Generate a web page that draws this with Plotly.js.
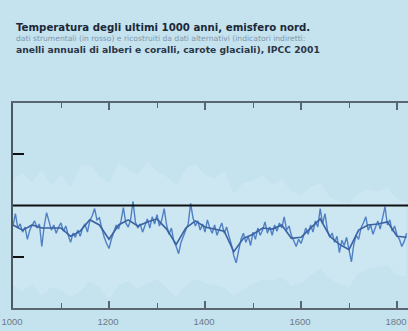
<!DOCTYPE html>
<html>
<head>
<meta charset="utf-8">
<script src="https://cdn.plot.ly/plotly-3.0.1.min.js"></script>
<style>html,body{margin:0;padding:0;background:#c5e2ef;}#chart{width:408px;height:331px;}</style>
</head>
<body>
<div id="chart"></div>
<script>
// ---- Data ----
var titleLine1 = "Temperatura degli ultimi 1000 anni, emisfero nord.";
var titleLine2 = "dati strumentali (in rosso) e ricostruiti da dati alternativi (indicatori indiretti:";
var titleLine3 = "anelli annuali di alberi e coralli, carote glaciali), IPCC 2001";

var tickYears = [1000, 1200, 1400, 1600, 1800];
var tickLabels = ["1000", "1200", "1400", "1600", "1800"];

// reconstruction, every 5 years from 1000 to 1820 (°C anomaly)
var reconStart = 1000, reconStep = 5;
var reconValues = [
 -0.20,-0.08,-0.22,-0.18, -0.26,-0.21,-0.33,-0.24, -0.19,-0.15,-0.22,-0.18,
 -0.40,-0.20,-0.07,-0.16, -0.24,-0.19,-0.27,-0.21, -0.17,-0.25,-0.20,-0.29,
 -0.36,-0.27,-0.31,-0.24, -0.30,-0.22,-0.18,-0.26, -0.15,-0.10,-0.03,-0.14,
 -0.12,-0.22,-0.31,-0.37, -0.42,-0.33,-0.25,-0.19, -0.23,-0.15,-0.02,-0.17,
 -0.21,-0.14, 0.04,-0.16, -0.22,-0.18,-0.26,-0.20, -0.13,-0.22,-0.11,-0.18,
 -0.09,-0.20,-0.14,-0.03, -0.19,-0.28,-0.22,-0.35, -0.40,-0.47,-0.36,-0.30,
 -0.24,-0.18, 0.02,-0.12, -0.20,-0.15,-0.24,-0.18, -0.26,-0.14,-0.22,-0.27,
 -0.19,-0.29,-0.23,-0.17, -0.27,-0.21,-0.30,-0.38, -0.49,-0.56,-0.44,-0.33,
 -0.27,-0.36,-0.30,-0.39, -0.26,-0.33,-0.22,-0.29, -0.24,-0.16,-0.27,-0.21,
 -0.29,-0.19,-0.25,-0.17, -0.22,-0.11,-0.24,-0.20, -0.29,-0.35,-0.40,-0.33,
 -0.37,-0.30,-0.22,-0.28, -0.19,-0.26,-0.15,-0.21, -0.03,-0.18,-0.08,-0.24,
 -0.31,-0.27,-0.36,-0.30, -0.46,-0.34,-0.39,-0.31, -0.45,-0.55,-0.38,-0.29,
 -0.33,-0.22,-0.17,-0.11, -0.24,-0.19,-0.28,-0.21, -0.15,-0.23,-0.12,-0.01,
 -0.19,-0.14,-0.25,-0.20, -0.29,-0.33,-0.40,-0.35, -0.27
];

// smoothed reconstruction, every 20 years from 1000 to 1820
var smoothStart = 1000, smoothStep = 20;
var smoothValues = [
 -0.19,-0.24,-0.19,-0.22,-0.22, -0.22,-0.30,-0.25,-0.14,-0.19,
 -0.33,-0.19,-0.14,-0.20,-0.16, -0.13,-0.23,-0.38,-0.22,-0.15,
 -0.21,-0.23,-0.25,-0.45,-0.32, -0.28,-0.22,-0.23,-0.19,-0.32,
 -0.31,-0.22,-0.13,-0.30,-0.38, -0.43,-0.24,-0.19,-0.18,-0.16,
 -0.30,-0.31
];

// uncertainty band, every 20 years from 1000 to 1820
var bandUpper = [
 0.25,0.32,0.22,0.35,0.20, 0.30,0.18,0.38,0.40,0.28,
 0.22,0.42,0.35,0.30,0.44, 0.33,0.28,0.20,0.36,0.40,
 0.30,0.26,0.34,0.12,0.22, 0.24,0.30,0.20,0.26,0.14,
 0.10,0.18,0.22,0.08,0.04, 0.02,0.12,0.16,0.14,0.18,
 0.06,0.04
];
var bandLower = [
 -0.78,-0.84,-0.76,-0.88,-0.80, -0.82,-0.90,-0.84,-0.74,-0.80,
 -0.92,-0.78,-0.74,-0.82,-0.76, -0.72,-0.80,-0.90,-0.78,-0.72,
 -0.76,-0.78,-0.80,-0.88,-0.82, -0.76,-0.72,-0.74,-0.70,-0.78,
 -0.76,-0.68,-0.62,-0.72,-0.76, -0.80,-0.66,-0.62,-0.60,-0.58,
 -0.68,-0.70
];

// ---- Build x arrays ----
var reconYears = reconValues.map(function(_, i){ return reconStart + i*reconStep; });
var smoothYears = smoothValues.map(function(_, i){ return smoothStart + i*smoothStep; });

// ---- Geometry helpers (pixel -> paper) ----
var W = 408, H = 331, M = {l:13, r:0, t:103, b:23};
var pw = W - M.l - M.r, ph = H - M.t - M.b;
function px(x){ return (x - M.l)/pw; }
function py(y){ return (H - M.b - y)/ph; }

var titleFont = 'DejaVu Sans, Verdana, sans-serif';

var traces = [
  {x: smoothYears, y: bandLower, type:'scatter', mode:'lines', line:{width:0, color:'rgba(0,0,0,0)'}, hoverinfo:'skip', showlegend:false},
  {x: smoothYears, y: bandUpper, type:'scatter', mode:'lines', fill:'tonexty', fillcolor:'rgba(222,239,247,0.3)', line:{width:0, color:'rgba(0,0,0,0)'}, hoverinfo:'skip', showlegend:false},
  {x: reconYears, y: reconValues, type:'scatter', mode:'lines', line:{color:'#5080c4', width:1.4}, showlegend:false},
  {x: smoothYears, y: smoothValues, type:'scatter', mode:'lines', line:{color:'#3a62a2', width:1.6}, showlegend:false}
];

var layout = {
  width: W, height: H,
  margin: M,
  paper_bgcolor: '#c5e2ef',
  plot_bgcolor: '#c5e2ef',
  showlegend: false,
  font: {family: 'Liberation Sans, Arial, sans-serif'},
  xaxis: {
    range: [1000, 1000 + pw/0.48],
    showgrid: false, zeroline: false,
    showline: true, linecolor: '#5a666f', linewidth: 2, mirror: 'ticks',
    ticks: 'inside', ticklen: 7, tickwidth: 1.5, tickcolor: '#5a666f',
    tickvals: tickYears, ticktext: tickLabels,
    minor: {dtick: 100, ticks: 'inside', ticklen: 5, tickcolor: '#5a666f', tickwidth: 1},
    tickfont: {size: 9.5, color: '#6d7a85'},
    ticklabelshift: -1,
    ticklabelstandoff: 4,
    ticklabeloverflow: 'allow'
  },
  yaxis: {
    range: [-1, 1],
    showgrid: false,
    showline: true, linecolor: '#4e5862', linewidth: 2,
    ticks: 'inside', ticklen: 11, tickwidth: 2, tickcolor: '#111',
    tickvals: [-0.5, 0.5], showticklabels: false,
    zeroline: false
  },
  shapes: [
    {type:'line', xref:'paper', x0:0, x1:1, yref:'y', y0:0, y1:0, layer:'above', line:{color:'#111', width:2}}
  ],
  annotations: [
    {text: titleLine1, xref:'paper', yref:'paper', x: px(14), y: py(28), xanchor:'left', yanchor:'middle', showarrow:false,
     font:{size:10.2, color:'#1c2838', family:titleFont, weight:'bold'}},
    {text: titleLine2, xref:'paper', yref:'paper', x: px(14), y: py(38.5), xanchor:'left', yanchor:'middle', showarrow:false,
     font:{size:7.6, color:'#7f97a8', family:titleFont}},
    {text: titleLine3, xref:'paper', yref:'paper', x: px(14), y: py(49), xanchor:'left', yanchor:'middle', showarrow:false,
     font:{size:9.2, color:'#2a3646', family:titleFont, weight:'bold'}}
  ]
};

Plotly.newPlot('chart', traces, layout, {staticPlot: true, displayModeBar: false});
</script>
</body>
</html>
